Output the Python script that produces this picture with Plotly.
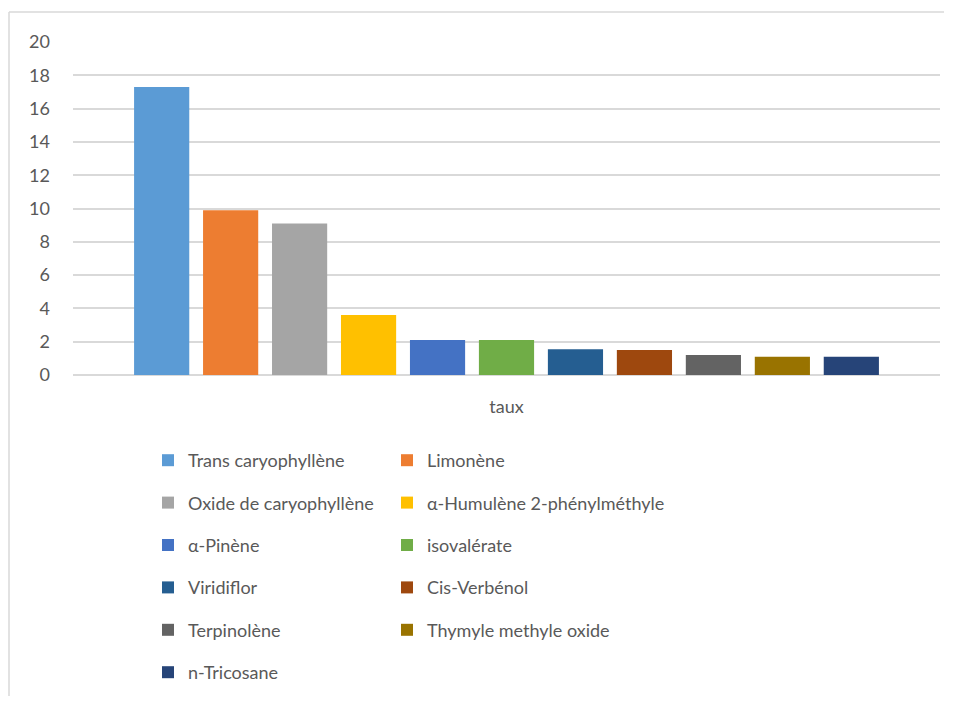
import plotly.graph_objects as go

category = ["taux"]
names = ["Trans caryophyllène", "Limonène", "Oxide de caryophyllène",
         "α-Humulène 2-phénylméthyle", "α-Pinène", "isovalérate",
         "Viridiflor", "Cis-Verbénol", "Terpinolène",
         "Thymyle methyle oxide", "n-Tricosane"]
values = [17.3, 9.9, 9.1, 3.6, 2.1, 2.1, 1.55, 1.5, 1.2, 1.1, 1.1]
colors = ["#5B9BD5", "#ED7D31", "#A5A5A5", "#FFC000", "#4472C4", "#70AD47",
          "#255E91", "#9E480E", "#636363", "#997300", "#264478"]
y_ticks = [0, 2, 4, 6, 8, 10, 12, 14, 16, 18, 20]

FONT = "Lato"
TXT = "#595959"

fig = go.Figure()
for i, (n, v, c) in enumerate(zip(names, values, colors)):
    fig.add_trace(go.Bar(
        x=category, y=[v], name=n, marker=dict(color=c, line=dict(width=0)),
        legend="legend" if i % 2 == 0 else "legend2",
        legendgroup=n,
    ))

legend_common = dict(
    orientation="v", yanchor="top", xanchor="left",
    font=dict(family=FONT, size=18, color=TXT),
    tracegroupgap=16, bgcolor="rgba(0,0,0,0)", itemsizing="constant",
)

bx = (9 - 73) / 867
by = (375 - 12) / 333
fig.update_layout(
    width=936, height=688,
    margin=dict(l=65, r=4, t=34, b=321),
    paper_bgcolor="white", plot_bgcolor="white",
    barmode="group", bargap=0.125, bargroupgap=0.2,
    font=dict(family=FONT, size=18, color=TXT),
    legend=dict(x=(148 - 73) / 867, y=(375 - 442) / 333, **legend_common),
    legend2=dict(x=(387 - 73) / 867, y=(375 - 442) / 333, **legend_common),
    xaxis=dict(showgrid=False, showline=False, zeroline=False,
               ticklabelstandoff=19, tickfont=dict(family=FONT, size=18, color=TXT)),
    yaxis=dict(range=[0, 20], tickvals=y_ticks, showgrid=True,
               gridcolor="#D9D9D9", gridwidth=1.5, zeroline=True,
               zerolinecolor="#D9D9D9", zerolinewidth=1.5, showline=False,
               ticklabelstandoff=22, tickfont=dict(family=FONT, size=18, color=TXT)),
    shapes=[
        dict(type="line", xref="paper", yref="paper", x0=bx, x1=(944 - 73) / 867,
             y0=by, y1=by, line=dict(color="#D9D9D9", width=1.5), layer="below"),
        dict(type="line", xref="paper", yref="paper", x0=bx, x1=bx,
             y0=by, y1=(375 - 696) / 333,
             line=dict(color="#D9D9D9", width=1.5), layer="below"),
    ],
)

fig.write_html("out.html")
